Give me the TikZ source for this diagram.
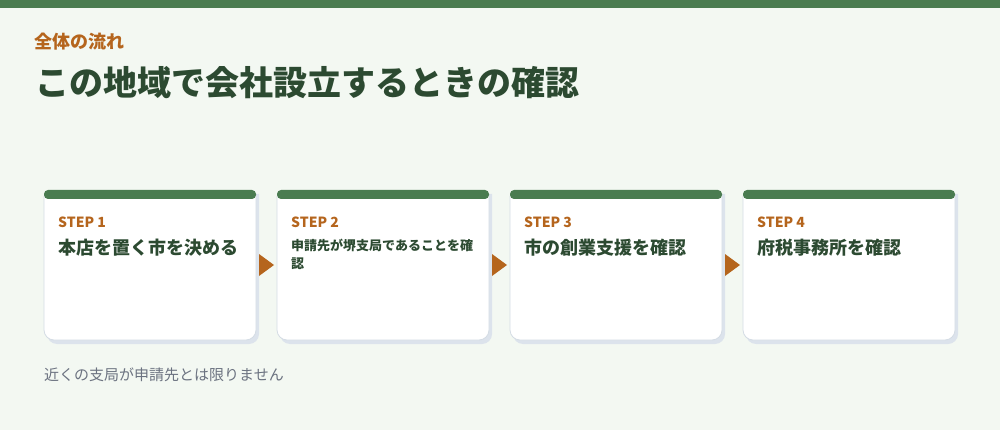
\documentclass[tikz,border=0pt]{standalone}
\usepackage{fontspec}
\newfontfamily\jp{Noto Sans CJK JP}
\definecolor{bg}{HTML}{F3F8F2}
\definecolor{topbar}{HTML}{4A7C50}
\definecolor{darkgreen}{HTML}{2C4A31}
\definecolor{accent}{HTML}{B5651D}
\definecolor{note}{HTML}{6B7280}
\definecolor{shadowc}{HTML}{DCE3EC}
\definecolor{borderc}{HTML}{D4DCE4}
\tikzset{
  kicker/.style={anchor=west, inner sep=0, text=accent, font=\jp\bfseries\fontsize{18}{20}\selectfont},
  headline/.style={anchor=west, inner sep=0, text=darkgreen, font=\jp\bfseries\fontsize{34}{38}\selectfont},
  steplabel/.style={anchor=west, inner sep=0, text=accent, font=\jp\bfseries\fontsize{14}{16}\selectfont},
  steptitle/.style={anchor=west, inner sep=0, text=darkgreen, font=\jp\bfseries\fontsize{18}{20}\selectfont},
  steptitlesmall/.style={anchor=west, inner sep=0, align=left, text=darkgreen, font=\jp\bfseries\fontsize{13}{18}\selectfont},
  footnote/.style={anchor=west, inner sep=0, text=note, font=\jp\fontsize{15}{17}\selectfont},
  cardnode/.style={anchor=north west, inner sep=0, minimum width=212pt, minimum height=150pt},
  marker/.style={fill=accent}
}
\begin{document}
\begin{tikzpicture}[x=1pt,y=-1pt]
\fill[bg] (0,0) rectangle (1000,430);
\useasboundingbox (0,0) rectangle (1000,430);
\fill[topbar] (0,0) rectangle (1000,8);
\node[kicker] (kick) at (34,42) {全体の流れ};
\node[headline] (head) at (35,83) {この地域で会社設立するときの確認};
\foreach \i/\x in {1/44,2/277,3/510,4/743}{
  \node[cardnode] (card\i) at (\x,190) {};
  \fill[shadowc, rounded corners=10] (\x+3,194) -- (\x+3,344) -- (\x+215,344) -- (\x+215,194);
  \filldraw[fill=white, draw=borderc, line width=0.8pt, rounded corners=10] (\x,196) -- (\x,340) -- (\x+212,340) -- (\x+212,196);
  \fill[topbar, rounded corners=4] (\x,190) rectangle (\x+212,199);
  \node[steplabel] (lab\i) at (\x+14,222) {STEP \i};
}
\node[steptitle] (t1) at (58,248) {本店を置く市を決める};
\node[steptitlesmall] (t2) at (291,254.5) {申請先が堺支局であることを確\\認};
\node[steptitle] (t3) at (524,248) {市の創業支援を確認};
\node[steptitle] (t4) at (757,248) {府税事務所を確認};
\foreach \x in {44,277,510}{
  \fill[marker] (\x+215,254) -- (\x+230,265) -- (\x+215,276) -- cycle;
}
\node[footnote] (fn) at (44,375) {近くの支局が申請先とは限りません};
\end{tikzpicture}
\end{document}
